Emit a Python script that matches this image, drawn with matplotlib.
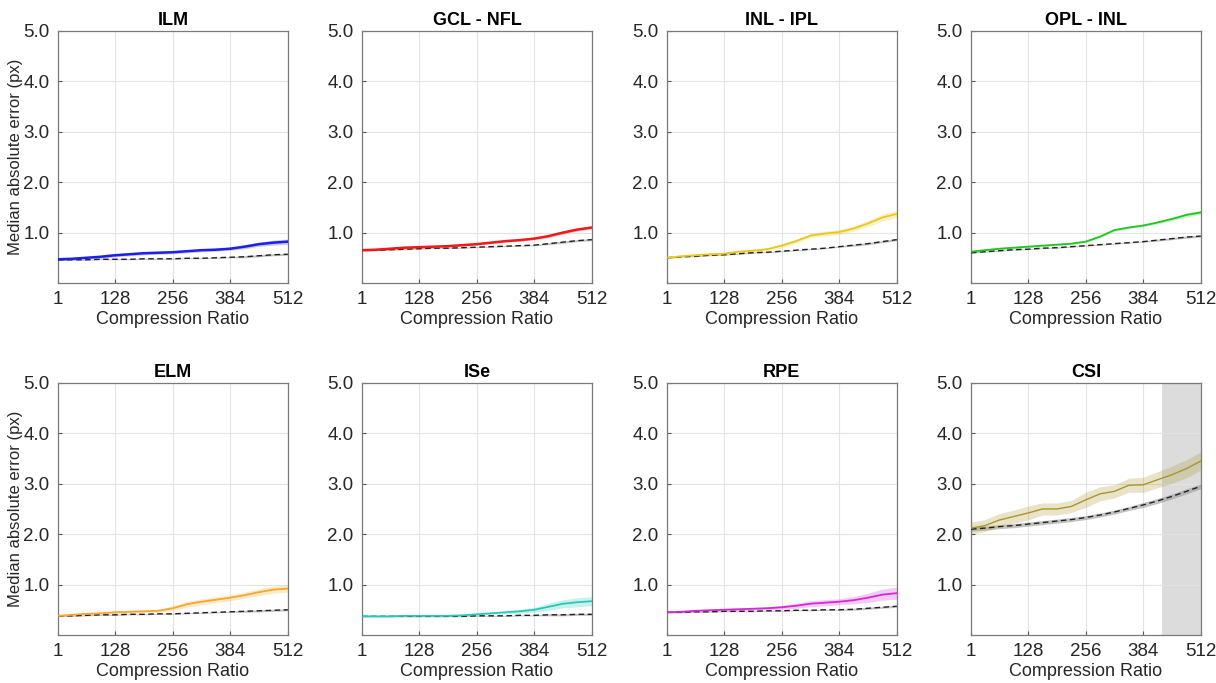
import numpy as np
import matplotlib
matplotlib.use("Agg")
import matplotlib.pyplot as plt

plt.rcParams['font.family'] = ['Liberation Sans', 'DejaVu Sans']

# compression ratios sampled
ratios = [1, 32, 64, 96, 128, 160, 192, 224, 256, 288, 320, 352, 384, 416, 448, 480, 512]

titles = ['ILM', 'GCL - NFL', 'INL - IPL', 'OPL - INL', 'ELM', 'ISe', 'RPE', 'CSI']
colors = ['#1f1fe6', '#f01818', '#e8c81a', '#22c422', '#f5a82a', '#26c9b4', '#d42ad4', '#a8962a']

# median error of the compressed model (coloured) per layer
ilm = [0.47, 0.48, 0.50, 0.52, 0.55, 0.57, 0.59, 0.60, 0.61, 0.63, 0.65, 0.66, 0.68, 0.72, 0.77, 0.80, 0.82]
gcl = [0.65, 0.66, 0.68, 0.70, 0.71, 0.72, 0.73, 0.75, 0.77, 0.80, 0.83, 0.85, 0.88, 0.93, 1.00, 1.06, 1.10]
inl = [0.50, 0.53, 0.55, 0.57, 0.58, 0.62, 0.64, 0.67, 0.74, 0.83, 0.94, 0.98, 1.01, 1.08, 1.18, 1.30, 1.37]
opl = [0.62, 0.65, 0.68, 0.70, 0.72, 0.74, 0.76, 0.78, 0.82, 0.92, 1.05, 1.10, 1.14, 1.20, 1.27, 1.35, 1.40]
elm = [0.38, 0.40, 0.42, 0.43, 0.45, 0.46, 0.47, 0.48, 0.53, 0.61, 0.66, 0.70, 0.74, 0.79, 0.85, 0.90, 0.92]
ise = [0.37, 0.37, 0.37, 0.38, 0.38, 0.38, 0.38, 0.39, 0.41, 0.43, 0.45, 0.47, 0.50, 0.56, 0.62, 0.65, 0.67]
rpe = [0.45, 0.46, 0.48, 0.49, 0.50, 0.51, 0.52, 0.53, 0.55, 0.58, 0.62, 0.64, 0.66, 0.69, 0.74, 0.80, 0.83]
csi = [2.12, 2.17, 2.28, 2.35, 2.42, 2.50, 2.50, 2.55, 2.68, 2.80, 2.85, 2.97, 2.98, 3.08, 3.18, 3.30, 3.45]

# band half-widths for coloured curves
ilm_sd = [0.02, 0.02, 0.02, 0.03, 0.03, 0.03, 0.03, 0.03, 0.03, 0.03, 0.03, 0.03, 0.03, 0.04, 0.04, 0.05, 0.05]
gcl_sd = [0.02, 0.02, 0.02, 0.02, 0.02, 0.02, 0.02, 0.02, 0.02, 0.02, 0.02, 0.02, 0.02, 0.03, 0.03, 0.03, 0.03]
inl_sd = [0.02, 0.02, 0.02, 0.02, 0.03, 0.03, 0.03, 0.03, 0.04, 0.04, 0.04, 0.05, 0.05, 0.05, 0.06, 0.07, 0.07]
opl_sd = [0.03, 0.03, 0.02, 0.02, 0.02, 0.02, 0.02, 0.02, 0.02, 0.02, 0.02, 0.02, 0.02, 0.03, 0.03, 0.04, 0.04]
elm_sd = [0.01, 0.02, 0.02, 0.02, 0.03, 0.03, 0.03, 0.03, 0.05, 0.06, 0.06, 0.06, 0.06, 0.06, 0.07, 0.07, 0.07]
ise_sd = [0.01, 0.01, 0.01, 0.01, 0.01, 0.01, 0.01, 0.01, 0.02, 0.02, 0.03, 0.04, 0.05, 0.07, 0.08, 0.09, 0.09]
rpe_sd = [0.02, 0.02, 0.02, 0.02, 0.03, 0.03, 0.03, 0.03, 0.04, 0.05, 0.06, 0.06, 0.06, 0.07, 0.09, 0.11, 0.12]
csi_sd = [0.12, 0.12, 0.13, 0.13, 0.14, 0.12, 0.12, 0.12, 0.15, 0.14, 0.13, 0.14, 0.15, 0.16, 0.17, 0.18, 0.18]

# baseline (black dashed) per layer
ilm_b = [0.46, 0.46, 0.46, 0.47, 0.47, 0.47, 0.48, 0.48, 0.48, 0.49, 0.49, 0.50, 0.51, 0.52, 0.54, 0.56, 0.57]
gcl_b = [0.65, 0.65, 0.66, 0.67, 0.68, 0.69, 0.69, 0.70, 0.71, 0.72, 0.73, 0.74, 0.75, 0.78, 0.81, 0.84, 0.86]
inl_b = [0.50, 0.52, 0.53, 0.55, 0.56, 0.58, 0.60, 0.61, 0.63, 0.65, 0.67, 0.69, 0.72, 0.75, 0.78, 0.82, 0.86]
opl_b = [0.60, 0.62, 0.64, 0.66, 0.67, 0.69, 0.70, 0.72, 0.74, 0.76, 0.78, 0.80, 0.82, 0.85, 0.88, 0.91, 0.93]
elm_b = [0.38, 0.38, 0.39, 0.40, 0.40, 0.41, 0.41, 0.42, 0.42, 0.43, 0.44, 0.45, 0.46, 0.47, 0.48, 0.49, 0.50]
ise_b = [0.37, 0.37, 0.37, 0.37, 0.37, 0.37, 0.37, 0.37, 0.38, 0.38, 0.38, 0.39, 0.39, 0.40, 0.40, 0.41, 0.41]
rpe_b = [0.45, 0.45, 0.46, 0.46, 0.47, 0.47, 0.47, 0.48, 0.48, 0.49, 0.49, 0.50, 0.50, 0.51, 0.53, 0.55, 0.57]
csi_b = [2.10, 2.12, 2.15, 2.17, 2.20, 2.23, 2.26, 2.29, 2.33, 2.38, 2.44, 2.51, 2.58, 2.66, 2.75, 2.85, 2.95]
base_sd = [0.01, 0.01, 0.01, 0.01, 0.01, 0.01, 0.01, 0.01, 0.01, 0.01, 0.01, 0.01, 0.01, 0.02, 0.02, 0.02, 0.02]
csi_base_sd = [0.04, 0.04, 0.04, 0.04, 0.04, 0.04, 0.04, 0.04, 0.04, 0.04, 0.04, 0.04, 0.05, 0.05, 0.05, 0.05, 0.05]

# shaded region in the CSI panel
csi_span = (425, 512)

means = [ilm, gcl, inl, opl, elm, ise, rpe, csi]
sds = [ilm_sd, gcl_sd, inl_sd, opl_sd, elm_sd, ise_sd, rpe_sd, csi_sd]
bases = [ilm_b, gcl_b, inl_b, opl_b, elm_b, ise_b, rpe_b, csi_b]
base_sds = [base_sd] * 7 + [csi_base_sd]
widths = [1.8, 1.8, 1.3, 1.3, 1.3, 1.3, 1.3, 1.0]

fig = plt.figure(figsize=(12.16, 6.83), dpi=100)
lefts = [0.0477, 0.2977, 0.5485, 0.7985]
bottoms = [0.5857, 0.0703]
x = np.array(ratios)

for i in range(8):
    r, c = divmod(i, 4)
    ax = fig.add_axes([lefts[c], bottoms[r], 0.189, 0.369])
    m = np.array(means[i]); s = np.array(sds[i])
    b = np.array(bases[i]); bs = np.array(base_sds[i])
    if i == 7:
        ax.axvspan(csi_span[0], csi_span[1], color='#dcdcdc', zorder=0.5, lw=0)
    ax.fill_between(x, b - bs, b + bs, color='#9a9a9a', alpha=0.6, lw=0, zorder=2)
    ax.plot(x, b, color='#222222', ls=(0, (4, 2.5)), lw=1.0, zorder=3)
    ax.fill_between(x, m - s, m + s, color=colors[i], alpha=0.25, lw=0, zorder=2)
    ax.plot(x, m, color=colors[i], lw=widths[i], zorder=4)

    ax.set_xlim(1, 512)
    ax.set_ylim(0, 5)
    ax.set_xticks([1, 128, 256, 384, 512])
    ax.set_yticks([1, 2, 3, 4, 5])
    ax.set_yticklabels(['1.0', '2.0', '3.0', '4.0', '5.0'])
    ax.grid(True, color='#e3e3e3', lw=0.8, zorder=0)
    ax.set_axisbelow(True)
    ax.tick_params(direction='in', length=3, color='#555555', labelcolor='#262626',
                   labelsize=13.5, top=False, right=False, pad=6)
    for sp in ax.spines.values():
        sp.set_color('#7a7a7a')
        sp.set_linewidth(0.9)
    ax.set_title(titles[i], fontsize=13, fontweight='bold', pad=4)
    ax.set_xlabel('Compression Ratio', fontsize=13, color='#262626', labelpad=2)
    if c == 0:
        ax.set_ylabel('Median absolute error (px)', fontsize=12, color='#262626', labelpad=0)

fig.savefig('out.png', dpi=100)
